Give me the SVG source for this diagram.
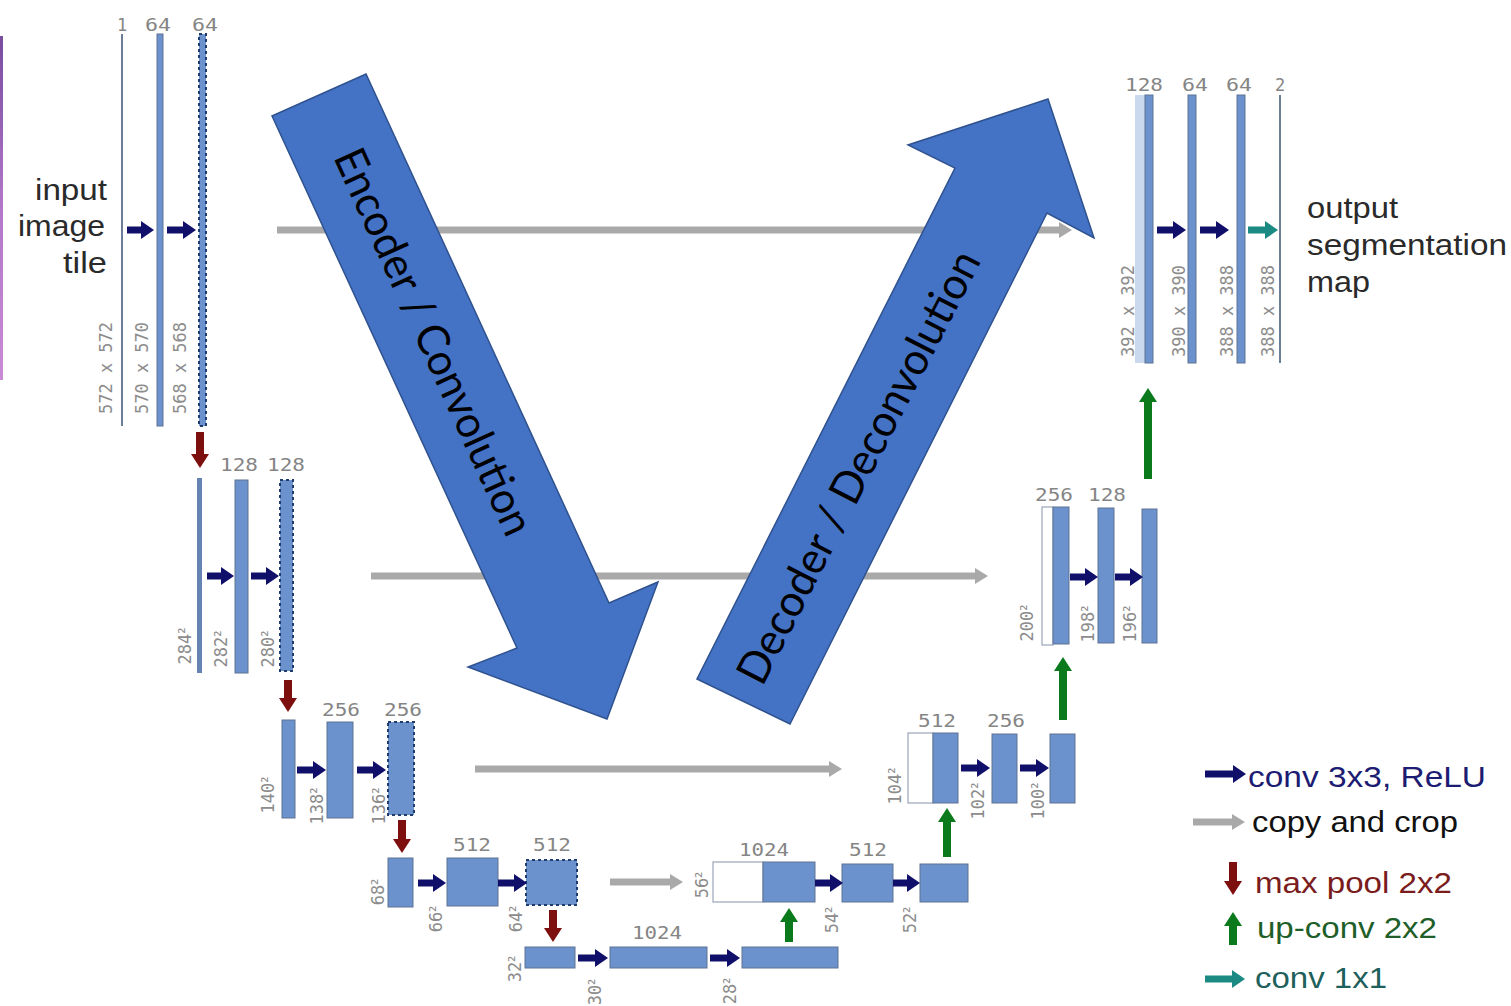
<svg xmlns="http://www.w3.org/2000/svg" width="1511" height="1006" viewBox="0 0 1511 1006">
<style>
.bar{fill:#6b92cc;stroke:#5e7393;stroke-width:1}
.dot{fill:#6b92cc;stroke:#1f3c6e;stroke-width:2;stroke-dasharray:3 3}
.thin{fill:#6c7d98}
.cp{fill:#ffffff;stroke:#9aa6b8;stroke-width:1.2}
.num{font-family:"DejaVu Sans Mono","Liberation Mono",monospace;font-size:17px;fill:#858585;text-anchor:middle}
.rot{font-family:"DejaVu Sans Mono","Liberation Mono",monospace;font-size:17px;fill:#8c8c8c;text-anchor:middle;dominant-baseline:central}
.lbl{font-family:"Liberation Sans",Arial,sans-serif;font-size:29px;fill:#2a2a2a}
.conv{stroke:#10106a;stroke-width:7;marker-end:url(#mConv)}
.copy{stroke:#a9a9a9;stroke-width:7;marker-end:url(#mCopy)}
.pool{stroke:#7d0f0f;stroke-width:8;marker-end:url(#mPool)}
.up{stroke:#0b7a1c;stroke-width:8;marker-end:url(#mUp)}
.c11{stroke:#1a8a82;stroke-width:7;marker-end:url(#m11)}
.big{fill:#4472c4;stroke:#2f528f;stroke-width:1.5}
.bigt{font-family:Lato,"Open Sans","Noto Sans",sans-serif;font-size:44px;fill:#000;text-anchor:middle}
</style>
<defs>
<marker id="mConv" markerUnits="userSpaceOnUse" markerWidth="13" markerHeight="18" refX="0" refY="9" orient="auto" viewBox="0 0 13 18"><path d="M0,0 L13,9 L0,18 z" fill="#10106a"/></marker>
<marker id="mCopy" markerUnits="userSpaceOnUse" markerWidth="13" markerHeight="16" refX="0" refY="8" orient="auto" viewBox="0 0 13 16"><path d="M0,0 L13,8 L0,16 z" fill="#a9a9a9"/></marker>
<marker id="mPool" markerUnits="userSpaceOnUse" markerWidth="14" markerHeight="18" refX="0" refY="9" orient="auto" viewBox="0 0 14 18"><path d="M0,0 L14,9 L0,18 z" fill="#7d0f0f"/></marker>
<marker id="mUp" markerUnits="userSpaceOnUse" markerWidth="14" markerHeight="18" refX="0" refY="9" orient="auto" viewBox="0 0 14 18"><path d="M0,0 L14,9 L0,18 z" fill="#0b7a1c"/></marker>
<marker id="m11" markerUnits="userSpaceOnUse" markerWidth="13" markerHeight="18" refX="0" refY="9" orient="auto" viewBox="0 0 13 18"><path d="M0,0 L13,9 L0,18 z" fill="#1a8a82"/></marker>
<linearGradient id="pink" x1="0" y1="0" x2="0" y2="1"><stop offset="0" stop-color="#7a4c9e"/><stop offset="0.5" stop-color="#b277c9"/><stop offset="1" stop-color="#c98ad6"/></linearGradient>
</defs>
<rect width="1511" height="1006" fill="#ffffff"/>
<rect x="0" y="36" width="3" height="344" fill="url(#pink)"/>

<g id="input-label">
<text class="lbl" x="107" y="200" text-anchor="end" textLength="72" lengthAdjust="spacingAndGlyphs">input</text>
<text class="lbl" x="105" y="236" text-anchor="end" textLength="87" lengthAdjust="spacingAndGlyphs">image</text>
<text class="lbl" x="107" y="273" text-anchor="end" textLength="44" lengthAdjust="spacingAndGlyphs">tile</text>
</g>
<g id="output-label">
<text class="lbl" x="1307" y="218" textLength="91" lengthAdjust="spacingAndGlyphs">output</text>
<text class="lbl" x="1307" y="255" textLength="200" lengthAdjust="spacingAndGlyphs">segmentation</text>
<text class="lbl" x="1307" y="292" textLength="63" lengthAdjust="spacingAndGlyphs">map</text>
</g>

<!-- Level 1 encoder -->
<g id="e1-input"><rect class="thin" x="121" y="34" width="2" height="392"/><text class="num" x="122" y="31">1</text><text class="rot" transform="translate(106,368) rotate(-90)">572 x 572</text></g>
<g id="e1-conv1"><rect class="bar" x="157" y="34" width="6" height="392"/><text class="num" x="158" y="31" textLength="26" lengthAdjust="spacingAndGlyphs">64</text><text class="rot" transform="translate(142,368) rotate(-90)">570 x 570</text></g>
<g id="e1-conv2"><rect class="dot" x="199" y="34" width="7" height="392"/><text class="num" x="205" y="31" textLength="26" lengthAdjust="spacingAndGlyphs">64</text><text class="rot" transform="translate(180,368) rotate(-90)">568 x 568</text></g>

<!-- Level 2 encoder -->
<g id="e2-pool"><rect class="thin" x="197" y="478" width="5" height="195" style="fill:#6584b4"/><text class="rot" transform="translate(185,645) rotate(-90)">284<tspan dx="-2">²</tspan></text></g>
<g id="e2-conv1"><rect class="bar" x="235" y="480" width="13" height="193"/><text class="num" x="239" y="471" textLength="38" lengthAdjust="spacingAndGlyphs">128</text><text class="rot" transform="translate(221,648) rotate(-90)">282<tspan dx="-2">²</tspan></text></g>
<g id="e2-conv2"><rect class="dot" x="280" y="480" width="13" height="191"/><text class="num" x="286" y="471" textLength="38" lengthAdjust="spacingAndGlyphs">128</text><text class="rot" transform="translate(268,648) rotate(-90)">280<tspan dx="-2">²</tspan></text></g>

<!-- Level 3 encoder -->
<g id="e3-pool"><rect class="bar" x="282" y="720" width="13" height="98"/><text class="rot" transform="translate(268,794) rotate(-90)">140<tspan dx="-2">²</tspan></text></g>
<g id="e3-conv1"><rect class="bar" x="327" y="722" width="26" height="96"/><text class="num" x="341" y="716" textLength="38" lengthAdjust="spacingAndGlyphs">256</text><text class="rot" transform="translate(317,805) rotate(-90)">138<tspan dx="-2">²</tspan></text></g>
<g id="e3-conv2"><rect class="dot" x="388" y="722" width="26" height="93"/><text class="num" x="403" y="716" textLength="38" lengthAdjust="spacingAndGlyphs">256</text><text class="rot" transform="translate(379,805) rotate(-90)">136<tspan dx="-2">²</tspan></text></g>

<!-- Level 4 encoder -->
<g id="e4-pool"><rect class="bar" x="388" y="858" width="25" height="49"/><text class="rot" transform="translate(378,891) rotate(-90)">68<tspan dx="-2">²</tspan></text></g>
<g id="e4-conv1"><rect class="bar" x="447" y="858" width="51" height="48"/><text class="num" x="472" y="851" textLength="38" lengthAdjust="spacingAndGlyphs">512</text><text class="rot" transform="translate(436,918) rotate(-90)">66<tspan dx="-2">²</tspan></text></g>
<g id="e4-conv2"><rect class="dot" x="526" y="860" width="51" height="45"/><text class="num" x="552" y="851" textLength="38" lengthAdjust="spacingAndGlyphs">512</text><text class="rot" transform="translate(516,918) rotate(-90)">64<tspan dx="-2">²</tspan></text></g>

<!-- Level 5 bottom -->
<g id="b-pool"><rect class="bar" x="525" y="947" width="50" height="21"/><text class="rot" transform="translate(515,968) rotate(-90)">32<tspan dx="-2">²</tspan></text></g>
<g id="b-conv1"><rect class="bar" x="610" y="947" width="97" height="21"/><text class="num" x="657" y="939" textLength="50" lengthAdjust="spacingAndGlyphs">1024</text><text class="rot" transform="translate(595,991) rotate(-90)">30<tspan dx="-2">²</tspan></text></g>
<g id="b-conv2"><rect class="bar" x="742" y="947" width="96" height="21"/><text class="rot" transform="translate(730,990) rotate(-90)">28<tspan dx="-2">²</tspan></text></g>

<!-- Level 4 decoder -->
<g id="d4-concat"><rect class="cp" x="713" y="862" width="50" height="40"/><rect class="bar" x="763" y="862" width="52" height="40"/><text class="num" x="764" y="856" textLength="50" lengthAdjust="spacingAndGlyphs">1024</text><text class="rot" transform="translate(702,884) rotate(-90)">56<tspan dx="-2">²</tspan></text></g>
<g id="d4-conv1"><rect class="bar" x="842" y="864" width="51" height="38"/><text class="num" x="868" y="856" textLength="38" lengthAdjust="spacingAndGlyphs">512</text><text class="rot" transform="translate(832,919) rotate(-90)">54<tspan dx="-2">²</tspan></text></g>
<g id="d4-conv2"><rect class="bar" x="920" y="864" width="48" height="38"/><text class="rot" transform="translate(910,919) rotate(-90)">52<tspan dx="-2">²</tspan></text></g>

<!-- Level 3 decoder -->
<g id="d3-concat"><rect class="cp" x="908" y="733" width="25" height="70"/><rect class="bar" x="933" y="733" width="25" height="70"/><text class="num" x="937" y="727" textLength="38" lengthAdjust="spacingAndGlyphs">512</text><text class="rot" transform="translate(895,785) rotate(-90)">104<tspan dx="-2">²</tspan></text></g>
<g id="d3-conv1"><rect class="bar" x="992" y="734" width="25" height="69"/><text class="num" x="1006" y="727" textLength="38" lengthAdjust="spacingAndGlyphs">256</text><text class="rot" transform="translate(978,800) rotate(-90)">102<tspan dx="-2">²</tspan></text></g>
<g id="d3-conv2"><rect class="bar" x="1050" y="734" width="25" height="69"/><text class="rot" transform="translate(1038,800) rotate(-90)">100<tspan dx="-2">²</tspan></text></g>

<!-- Level 2 decoder -->
<g id="d2-concat"><rect class="cp" x="1042" y="507" width="11" height="138"/><rect class="bar" x="1053" y="507" width="16" height="137"/><text class="num" x="1054" y="501" textLength="38" lengthAdjust="spacingAndGlyphs">256</text><text class="rot" transform="translate(1027,622) rotate(-90)">200<tspan dx="-2">²</tspan></text></g>
<g id="d2-conv1"><rect class="bar" x="1098" y="508" width="16" height="135"/><text class="num" x="1107" y="501" textLength="38" lengthAdjust="spacingAndGlyphs">128</text><text class="rot" transform="translate(1088,623) rotate(-90)">198<tspan dx="-2">²</tspan></text></g>
<g id="d2-conv2"><rect class="bar" x="1142" y="509" width="15" height="134"/><text class="rot" transform="translate(1130,623) rotate(-90)">196<tspan dx="-2">²</tspan></text></g>

<!-- Level 1 decoder -->
<g id="d1-concat"><rect x="1135" y="95" width="10" height="268" fill="#cbd9ee"/><rect class="bar" x="1145" y="95" width="8" height="268"/><text class="num" x="1144" y="91" textLength="38" lengthAdjust="spacingAndGlyphs">128</text><text class="rot" transform="translate(1128,311) rotate(-90)">392 x 392</text></g>
<g id="d1-conv1"><rect class="bar" x="1188" y="95" width="8" height="268"/><text class="num" x="1195" y="91" textLength="26" lengthAdjust="spacingAndGlyphs">64</text><text class="rot" transform="translate(1179,311) rotate(-90)">390 x 390</text></g>
<g id="d1-conv2"><rect class="bar" x="1237" y="95" width="8" height="268"/><text class="num" x="1239" y="91" textLength="26" lengthAdjust="spacingAndGlyphs">64</text><text class="rot" transform="translate(1227,311) rotate(-90)">388 x 388</text></g>
<g id="d1-output"><rect class="thin" x="1279" y="95" width="2" height="268"/><text class="num" x="1280" y="91">2</text><text class="rot" transform="translate(1268,311) rotate(-90)">388 x 388</text></g>

<g id="connectors">
<!-- copy and crop -->
<line class="copy" x1="277" y1="230" x2="1059" y2="230"/>
<line class="copy" x1="371" y1="576" x2="975" y2="576"/>
<line class="copy" x1="475" y1="769" x2="829" y2="769"/>
<line class="copy" x1="610" y1="882" x2="670" y2="882"/>
<!-- conv 3x3 -->
<line class="conv" x1="127" y1="230" x2="141" y2="230"/>
<line class="conv" x1="167" y1="230" x2="183" y2="230"/>
<line class="conv" x1="207" y1="576" x2="221" y2="576"/>
<line class="conv" x1="251" y1="576" x2="266" y2="576"/>
<line class="conv" x1="297" y1="770" x2="313" y2="770"/>
<line class="conv" x1="357" y1="770" x2="373" y2="770"/>
<line class="conv" x1="418" y1="883" x2="433" y2="883"/>
<line class="conv" x1="498" y1="883" x2="514" y2="883"/>
<line class="conv" x1="578" y1="958" x2="595" y2="958"/>
<line class="conv" x1="710" y1="958" x2="727" y2="958"/>
<line class="conv" x1="815" y1="883" x2="830" y2="883"/>
<line class="conv" x1="893" y1="883" x2="907" y2="883"/>
<line class="conv" x1="961" y1="768" x2="977" y2="768"/>
<line class="conv" x1="1020" y1="768" x2="1036" y2="768"/>
<line class="conv" x1="1070" y1="577" x2="1085" y2="577"/>
<line class="conv" x1="1115" y1="577" x2="1130" y2="577"/>
<line class="conv" x1="1157" y1="230" x2="1173" y2="230"/>
<line class="conv" x1="1200" y1="230" x2="1216" y2="230"/>
<line class="c11" x1="1248" y1="230" x2="1265" y2="230"/>
<!-- max pool -->
<line class="pool" x1="200" y1="432" x2="200" y2="454"/>
<line class="pool" x1="288" y1="680" x2="288" y2="698"/>
<line class="pool" x1="402" y1="820" x2="402" y2="839"/>
<line class="pool" x1="553" y1="910" x2="553" y2="928"/>
<!-- up-conv -->
<line class="up" x1="789" y1="942" x2="789" y2="922"/>
<line class="up" x1="947" y1="857" x2="947" y2="822"/>
<line class="up" x1="1063" y1="720" x2="1063" y2="671"/>
<line class="up" x1="1148" y1="479" x2="1148" y2="402"/>
</g>

<g id="legend">
<line class="conv" x1="1205" y1="774" x2="1233" y2="774"/>
<text class="lbl" x="1248" y="787" style="fill:#1c1c72" textLength="238" lengthAdjust="spacingAndGlyphs">conv 3x3, ReLU</text>
<line class="copy" x1="1193" y1="822" x2="1232" y2="822"/>
<text class="lbl" x="1252" y="832" style="fill:#111" textLength="206" lengthAdjust="spacingAndGlyphs">copy and crop</text>
<line class="pool" x1="1233" y1="862" x2="1233" y2="881"/>
<text class="lbl" x="1255" y="893" style="fill:#7a1c1c" textLength="197" lengthAdjust="spacingAndGlyphs">max pool 2x2</text>
<line class="up" x1="1233" y1="945" x2="1233" y2="926"/>
<text class="lbl" x="1257" y="938" style="fill:#1e5e28" textLength="180" lengthAdjust="spacingAndGlyphs">up-conv 2x2</text>
<line class="c11" x1="1205" y1="979" x2="1232" y2="979"/>
<text class="lbl" x="1255" y="988" style="fill:#1f5f5c" textLength="132" lengthAdjust="spacingAndGlyphs">conv 1x1</text>
</g>

<g id="encoder-arrow">
<path class="big" d="M272,116 L366,74 L609,603 L658,582 L607,719 L468,667 L517,648 Z"/>
<text class="bigt" transform="translate(420,348) rotate(65.5)" textLength="420" lengthAdjust="spacingAndGlyphs">Encoder / Convolution</text>
</g>
<g id="decoder-arrow">
<path class="big" d="M697,679 L790,724 L1047,213 L1094,238 L1048,99 L908,145 L955,168 Z"/>
<text class="bigt" transform="translate(872,474) rotate(-62.8)" textLength="480" lengthAdjust="spacingAndGlyphs">Decoder / Deconvolution</text>
</g>
</svg>
